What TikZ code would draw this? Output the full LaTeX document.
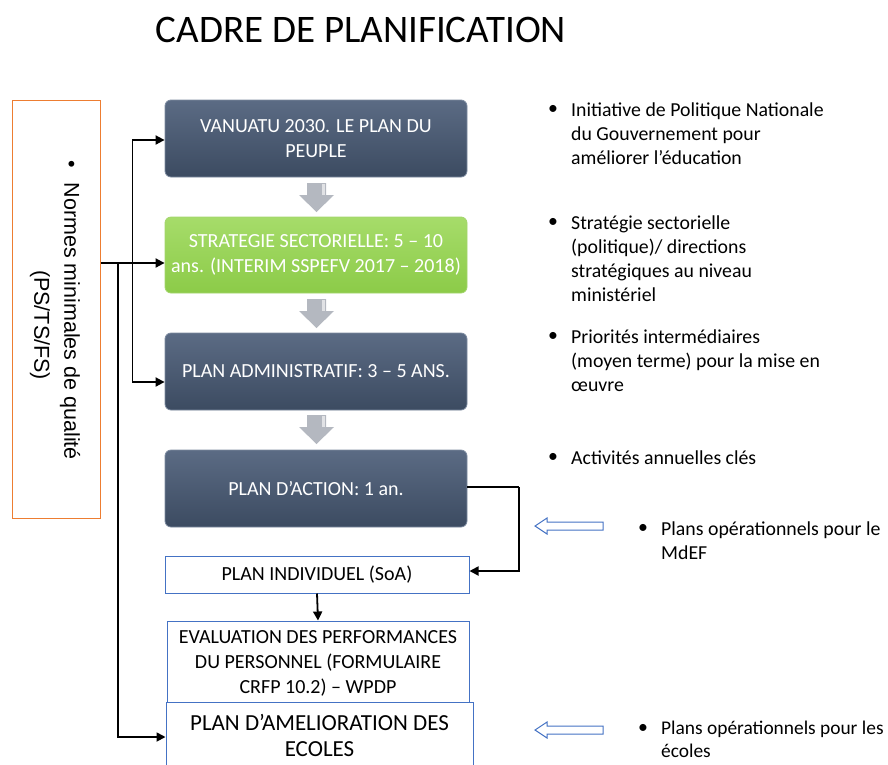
\documentclass[tikz,border=0pt]{standalone}
\usepackage{fontspec}
\setmainfont{Carlito}
\newfontfamily\arialf{Liberation Sans}
\usetikzlibrary{arrows.meta,shapes.arrows}
\definecolor{darktop}{HTML}{5B6B84}
\definecolor{darkbot}{HTML}{3C4B61}
\definecolor{darkedge}{HTML}{7D8BA0}
\definecolor{greentop}{HTML}{A6DC6A}
\definecolor{greenbot}{HTML}{8CCB48}
\definecolor{bluebord}{HTML}{4472C4}
\definecolor{orangebord}{HTML}{ED7D31}
\definecolor{arrgray}{HTML}{B4B8C0}
\tikzset{
  darkbox/.style={draw=darkedge,line width=0.8pt,rounded corners=6pt,top color=darktop,bottom color=darkbot,
    minimum width=302pt,minimum height=77pt,text=white,align=center,font=\fontsize{20}{25}\selectfont,inner sep=0pt},
  greenbox/.style={darkbox,draw=greenbot!80!white,top color=greentop,bottom color=greenbot},
  whitebox/.style={draw=bluebord,line width=1pt,fill=white,align=center,font=\fontsize{20}{25}\selectfont,inner sep=0pt},
  conn/.style={line width=1.8pt,-{Triangle[length=9pt,width=9pt]}},
  plainline/.style={line width=1.8pt},
  bultext/.style={anchor=base west,align=left,font=\fontsize{19.8}{24}\selectfont,inner sep=0pt},
  bul/.style={anchor=base west,font=\fontsize{19.8}{24}\selectfont,inner sep=0pt},
  hollow/.style={draw=bluebord,line width=1pt,fill=white}
}
\begin{document}
\begin{tikzpicture}[x=1pt,y=-1pt]
\useasboundingbox (0,0) rectangle (888,764);
% title
\node[font=\fontsize{39}{44}\selectfont,anchor=base] (title) at (361,42) {CADRE DE PLANIFICATION};
% left box
\node[draw=orangebord,line width=1pt,minimum width=88pt,minimum height=418pt,inner sep=0pt] (norm) at (56,309) {};
\node[rotate=-90,font=\arialf\fontsize{21.5}{26}\selectfont,inner sep=0pt] (n1) at (70,310) {\textbullet\hspace{15pt}Normes minimales de qualité};
\node[rotate=-90,font=\arialf\fontsize{21.5}{26}\selectfont,inner sep=0pt] (n2) at (40,325) {(PS/TS/FS)};
% main boxes
\node[darkbox] (b1) at (316,138.5) {VANUATU 2030. LE PLAN DU\\PEUPLE};
\node[greenbox,minimum height=76pt] (b2) at (316,255) {STRATEGIE SECTORIELLE: 5 -- 10\\ans. (INTERIM SSPEFV 2017 -- 2018)};
\node[darkbox] (b3) at (316,371.5) {PLAN ADMINISTRATIF: 3 -- 5 ANS.};
\node[darkbox] (b4) at (316,488.5) {PLAN D’ACTION: 1 an.};
% gray block arrows
\foreach \ya/\yb in {183/212, 299/328, 415/444}{
  \fill[arrgray] (307,\ya) -- (326,\ya) -- (326,\ya+12) -- (334,\ya+12) -- (316.5,\yb) -- (299,\ya+12) -- (307,\ya+12) -- cycle;
  \fill[white,opacity=0.6] (322,\ya+1) -- (325,\ya+1) -- (325,\ya+12) -- (322,\ya+12) -- cycle;
}
% white boxes
\node[whitebox,minimum width=304pt,minimum height=37pt] (b5) at (317,574.5) {PLAN INDIVIDUEL (SoA)};
\node[whitebox,minimum width=302pt,minimum height=84pt] (b6) at (318,663) {EVALUATION DES PERFORMANCES\\DU PERSONNEL (FORMULAIRE\\CRFP 10.2) -- WPDP};
\node[whitebox,minimum width=307pt,minimum height=80pt,anchor=north] (b7) at (319.5,702) {};
\node[font=\fontsize{23}{26}\selectfont,align=center,anchor=base,inner sep=0pt] (b7t) at (319.5,756) {PLAN D’AMELIORATION DES\\ECOLES};
% connectors
\coordinate (jA) at (132.5,263);
\coordinate (jB) at (118,263);
\draw[plainline] (norm.east |- jA) -- (jA);
\draw[conn] (jA) -- (b2.west |- jA);
\draw[conn] (jA) |- (b1.west |- 0,140);
\draw[conn] (jA) |- (b3.west |- 0,382);
\draw[conn] (jB) |- (b7.west |- 0,737);
\coordinate (rc) at (519,487);
\draw[plainline] (b4.east |- rc) -- (rc);
\draw[conn] (rc) |- (b5.east |- 0,571);
\draw[conn] (b5.south) -- (b6.north);
% right bullet texts (anchor = baseline of last line)
\node[bul] (r1b) at (548,114) {\textbullet};
\node[bultext] (r1) at (571,164) {Initiative de Politique Nationale\\du Gouvernement pour\\améliorer l’éducation};
\node[bul] (r2b) at (548,227) {\textbullet};
\node[bultext] (r2) at (571,301) {Stratégie sectorielle\\(politique)/ directions\\stratégiques au niveau\\ministériel};
\node[bul] (r3b) at (548,341) {\textbullet};
\node[bultext] (r3) at (571,391) {Priorités intermédiaires\\(moyen terme) pour la mise en\\œuvre};
\node[bul] (r4b) at (548,462) {\textbullet};
\node[bultext] (r4) at (571,464) {Activités annuelles clés};
\node[bul] (r5b) at (638,533) {\textbullet};
\node[bultext] (r5) at (661,559) {Plans opérationnels pour le\\MdEF};
\node[bul] (r6b) at (638,733) {\textbullet};
\node[bultext,font=\fontsize{19.4}{23}\selectfont] (r6) at (661,757) {Plans opérationnels pour les\\écoles};
% hollow arrows
\foreach \yc in {526,730}{
  \draw[hollow] (535,\yc) -- (547,\yc-8) -- (547,\yc-4) -- (603,\yc-4) -- (603,\yc+4) -- (547,\yc+4) -- (547,\yc+8) -- cycle;
}
\end{tikzpicture}
\end{document}
